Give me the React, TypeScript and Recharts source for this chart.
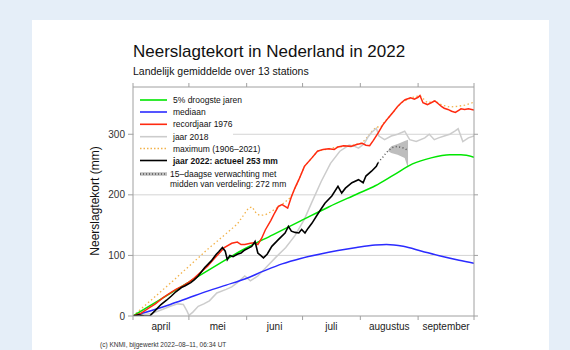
import { ComposedChart, Line, Area, XAxis, YAxis, CartesianGrid } from "recharts";

// dagen sinds 1 april
const monthStarts = [0, 30, 61, 91, 122, 153, 183];
const monthLabels = ["april", "mei", "juni", "juli", "augustus", "september"];
const yTicks = [0, 100, 200, 300];

const greenDays = [0, 15, 30, 45, 60, 75, 90, 105, 120, 130, 140, 150, 160, 170, 176, 183];
const greenValues = [0, 28, 56, 84, 111, 134, 157, 180, 201, 215, 233, 251, 261, 266, 266, 262];

const blueDays = [0, 10, 20, 30, 40, 50, 60, 70, 80, 90, 100, 110, 120, 130, 136, 145, 155, 165, 175, 183];
const blueValues = [0, 9, 19, 30, 41, 51, 61, 74, 86, 95, 102, 108, 113, 117, 118, 115, 107, 99, 92, 87];

const redDays = [
  0, 4, 8, 12, 16, 19, 23, 27, 30, 33, 37, 40, 44, 47, 49, 53, 56, 58, 60, 63, 65, 67, 69, 71, 74, 76,
  78, 80, 82, 83, 85, 87, 89, 92, 96, 99, 102, 105, 108, 110, 113, 117, 120, 123, 125, 127, 129, 131.5,
  134, 137, 140, 142, 144, 146, 149, 151, 153, 154, 155.6, 158, 160, 162, 164, 165.5, 167, 169, 171,
  173, 175, 176, 178, 180, 183,
];
const redValues = [
  0, 4, 12, 20, 30, 36, 44, 50, 56, 63, 74, 82, 96, 106, 113, 120, 122, 118, 118, 120, 121, 118, 128,
  142, 158, 170, 181, 184, 180, 178, 197, 212, 225, 247, 261, 272, 275, 276, 275, 279, 281, 280, 283,
  285, 282, 281, 290, 302, 315, 327, 338, 346, 352, 357, 360, 358, 361, 364, 352, 349, 352, 355, 350,
  346, 343, 341, 338, 336, 340, 342, 341, 342, 340,
];

const grayDays = [
  0, 5, 10, 15, 20, 24, 27, 29, 30, 32, 35, 38, 41, 45, 50, 53, 56, 60, 63, 67, 72, 77, 82, 87, 92, 96,
  101, 106, 111, 116, 119, 121, 124, 126, 128, 130.6, 132, 135, 138.6, 142, 145.8, 148.5, 152, 156.6,
  159, 161.7, 164, 167, 170, 172.7, 174.5, 177, 180, 183,
];
const grayValues = [
  0, 2, 4, 10, 16, 20, 19, 8, 1, 6, 16, 20, 25, 38, 44, 48, 55, 66, 58, 66, 82, 98, 113, 133, 160, 188,
  222, 252, 272, 282, 280, 277, 284, 295, 303, 310, 297, 291, 297, 300, 305, 291, 288, 294, 300, 291,
  294, 297, 300, 305, 309, 288, 294, 297,
];

const maxDays = [
  0, 10, 20, 30, 40, 50, 56, 59, 62, 64, 66, 68, 71, 74, 77, 80, 85, 89, 92, 96, 99, 105, 110, 117,
  123, 126, 128, 130.6, 133, 135, 137, 140, 144, 149, 154, 158, 162, 166, 170, 174, 178, 182, 183,
];
const maxValues = [
  0, 27, 54, 82, 110, 136, 152, 165, 178, 180, 170, 166, 167, 172, 178, 184, 197, 225, 247, 261, 272,
  276, 279, 281, 286, 296, 304, 312, 312, 321, 327, 338, 352, 360, 364, 352, 355, 348, 345, 346, 348,
  352, 353,
];

const days2022 = [
  0, 3, 6, 9, 11.6, 15, 18, 20.6, 23, 26, 28, 31, 33, 35, 38.5, 42, 44.7, 46, 48, 49.5, 50.6, 52, 53.7,
  56, 58, 60, 62, 63.7, 65.5, 67, 68.5, 70, 72, 74.5, 78, 81.6, 83.4, 85, 87, 89, 90.5, 92.3, 94, 96,
  99.5, 103, 106.7, 110, 112, 114, 117.5, 121, 123.5, 125, 128, 130.6, 131.5,
];
const values2022 = [
  0, 2, 0, 0, 8, 19, 26, 33, 40, 47, 50, 55, 60, 66, 80, 91, 102, 106, 113, 107, 93, 100, 98, 102, 104,
  109, 112, 115, 123, 104, 100, 96, 102, 115, 126, 137, 148, 140, 138, 137, 143, 137, 145, 153, 170,
  186, 198, 214, 203, 211, 220, 225, 220, 231, 239, 247, 253,
];

const forecastDays = [131.5, 134, 135.5, 137, 138.6, 140, 142, 144, 145.5, 147.6];
const forecastValues = [253, 262, 268, 273, 277, 279, 280, 278, 277, 273];

const bandDays = [137, 138.6, 142, 145.8, 147.6];
const bandLow = [272, 269, 266, 261, 244];
const bandHigh = [274, 280, 284, 289, 291];

const pts = (days: number[], vals: number[]) => days.map((d, i) => ({ d, v: vals[i] }));
const band = bandDays.map((d, i) => ({ d, r: [bandLow[i], bandHigh[i]] }));

const monthMids = monthLabels.map((_, i) => (monthStarts[i] + monthStarts[i + 1]) / 2);
const bottomTicks = [...monthStarts, ...monthMids].sort((a, b) => a - b);

const font = '"Liberation Sans", Arial, Helvetica, sans-serif';
const axisGray = "#a0a0a0";

function MonthTick(props: any) {
  const { x, y, payload } = props;
  const idx = monthMids.indexOf(payload.value);
  if (idx < 0) {
    return <line x1={x} x2={x} y1={y} y2={y + 4} stroke={axisGray} />;
  }
  return (
    <text x={x} y={y + 14} textAnchor="middle" fontSize={10} fill="#222" fontFamily={font}>
      {monthLabels[idx]}
    </text>
  );
}

const legendRows = [
  { label: "5% droogste jaren", color: "#00e600", dash: undefined, bold: false },
  { label: "mediaan", color: "#2b2bff", dash: undefined, bold: false },
  { label: "recordjaar 1976", color: "#ff2a10", dash: undefined, bold: false },
  { label: "jaar 2018", color: "#cccccc", dash: undefined, bold: false },
  { label: "maximum (1906\u20132021)", color: "#f2b24a", dash: "1.5 2", bold: false },
  { label: "jaar 2022: actueel 253 mm", color: "#000000", dash: undefined, bold: true },
];
const legendY = [100, 112, 124.3, 136.7, 148.5, 160.5];

export default function App() {
  return (
    <div style={{ position: "absolute", left: 0, top: 0, width: 570, height: 350, background: "#e5eef8", overflow: "hidden" }}>
      <div style={{ position: "absolute", left: 32, top: 20, width: 517, height: 340, background: "#fff" }} />
      <div style={{ position: "absolute", left: 0, top: 0 }}>
        <ComposedChart width={570} height={350} margin={{ top: 82, right: 91, bottom: 4, left: 103 }}>
          <CartesianGrid vertical={false} stroke="#d4d4d4" horizontalValues={[100, 200, 300]} />
          <XAxis
            type="number"
            dataKey="d"
            domain={[0, 183]}
            ticks={bottomTicks}
            interval={0}
            height={30}
            stroke={axisGray}
            tickLine={false}
            tickSize={0}
            tickMargin={0}
            tick={<MonthTick />}
            allowDataOverflow
          />
          <XAxis
            xAxisId="top"
            orientation="top"
            type="number"
            dataKey="d"
            domain={[0, 183]}
            ticks={monthStarts}
            interval={0}
            height={5}
            stroke={axisGray}
            tickSize={4}
            tickFormatter={() => ""}
            allowDataOverflow
          />
          <YAxis
            type="number"
            domain={[0, 378]}
            ticks={yTicks}
            interval={0}
            width={30}
            stroke={axisGray}
            tickSize={5}
            tickMargin={3}
            tick={{ fontSize: 10, fill: "#333", fontFamily: font }}
            allowDataOverflow
          />
          <YAxis
            yAxisId="right"
            orientation="right"
            type="number"
            domain={[0, 378]}
            ticks={yTicks}
            interval={0}
            width={5}
            stroke={axisGray}
            tickSize={4}
            tickFormatter={() => ""}
            allowDataOverflow
          />
          <Line data={pts(maxDays, maxValues)} dataKey="v" stroke="#f2b24a" strokeWidth={1.3} strokeDasharray="1.5 2.5" dot={false} isAnimationActive={false} />
          <Line data={pts(grayDays, grayValues)} dataKey="v" stroke="#cccccc" strokeWidth={1.5} dot={false} isAnimationActive={false} />
          <Line data={pts(blueDays, blueValues)} dataKey="v" type="monotone" stroke="#2b2bff" strokeWidth={1.5} dot={false} isAnimationActive={false} />
          <Line data={pts(greenDays, greenValues)} dataKey="v" type="monotone" stroke="#00e600" strokeWidth={1.5} dot={false} isAnimationActive={false} />
          <Line data={pts(redDays, redValues)} dataKey="v" stroke="#ff2a10" strokeWidth={1.5} dot={false} isAnimationActive={false} />
          <Area data={band} dataKey="r" stroke="none" fill="#bdbdbd" fillOpacity={1} isAnimationActive={false} />
          <Line data={pts(forecastDays, forecastValues)} dataKey="v" stroke="#555" strokeWidth={1.5} strokeDasharray="1 2.5" dot={false} isAnimationActive={false} />
          <Line data={pts(days2022, values2022)} dataKey="v" stroke="#000" strokeWidth={1.6} dot={false} isAnimationActive={false} />
        </ComposedChart>
      </div>
      <svg width={570} height={350} style={{ position: "absolute", left: 0, top: 0, pointerEvents: "none" }} fontFamily={font}>
        <text x={133} y={57} fontSize={17} fill="#111">Neerslagtekort in Nederland in 2022</text>
        <text x={133} y={75} fontSize={10.5} fill="#111">Landelijk gemiddelde over 13 stations</text>
        <text transform="translate(99,201) rotate(-90)" textAnchor="middle" fontSize={12} fill="#111">Neerslagtekort (mm)</text>
        <rect x={134} y={92} width={99} height={98} fill="#fff" />
        {legendRows.map((r, i) => (
          <g key={r.label}>
            <line x1={140} x2={167} y1={legendY[i]} y2={legendY[i]} stroke={r.color} strokeWidth={r.dash ? 1.3 : 1.6} strokeDasharray={r.dash} />
            <text x={173} y={legendY[i] + 3} fontSize={8.5} fill="#111" fontWeight={r.bold ? "bold" : "normal"}>{r.label}</text>
          </g>
        ))}
        <line x1={140} x2={167} y1={174} y2={174} stroke="#bdbdbd" strokeWidth={3.5} />
        <line x1={140} x2={167} y1={174} y2={174} stroke="#555" strokeWidth={1.3} strokeDasharray="1 2" />
        <text x={170} y={177} fontSize={8.5} fill="#111">15–daagse verwachting met</text>
        <text x={170} y={186.5} fontSize={8.5} fill="#111">midden van verdeling: 272 mm</text>
        <text x={100} y={347} fontSize={6.5} fill="#333">(c) KNMI, bijgewerkt 2022–08–11, 06:34 UT</text>
      </svg>
    </div>
  );
}
